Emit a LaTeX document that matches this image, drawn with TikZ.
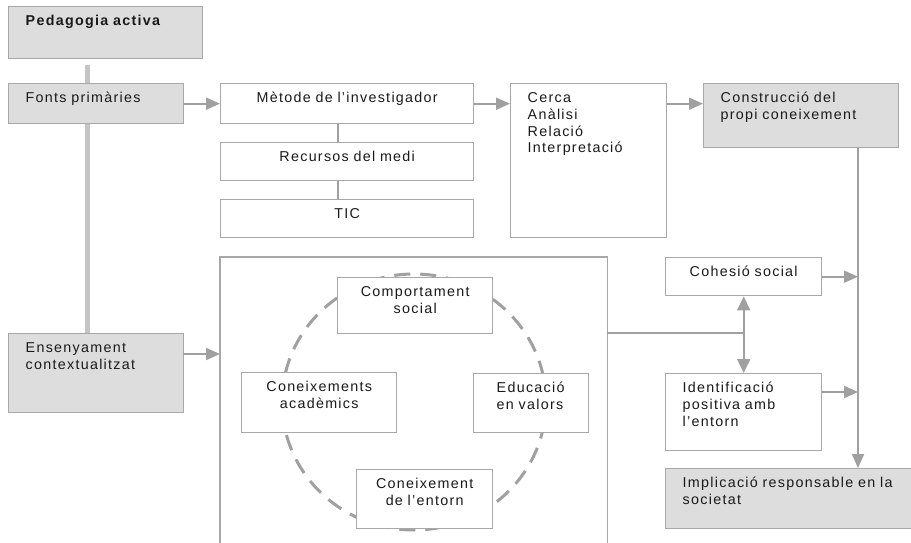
\documentclass[tikz,border=0pt]{standalone}
\usepackage{fontspec}
\setmainfont{Liberation Sans}[LetterSpace=9]
\usetikzlibrary{arrows.meta}
\definecolor{boxline}{HTML}{A8A8A8}
\definecolor{boxfill}{HTML}{DDDDDD}
\definecolor{wirecol}{HTML}{A0A0A0}
\definecolor{spinecol}{HTML}{C4C4C4}
\definecolor{ink}{HTML}{1A1A1A}

\begin{document}
\begin{tikzpicture}[x=1pt, y=-1pt, font=\fontsize{14.3}{16.7}\selectfont, text=ink,
	box/.style = {draw=boxline, line width=1.4pt, fill=white, anchor=north west, inner xsep=17pt, inner ysep=7pt, text height=12pt, align=left},
	gbox/.style = {box, fill=boxfill},
	cbox/.style = {box, align=center, inner xsep=4pt},
	wire/.style = {draw=wirecol, line width=2pt},
	arr/.style = {wire, -{Triangle[length=14pt, width=12pt]}}]

			\useasboundingbox (0,0) rectangle (911,543);

			% dashed ring behind the four boxes
			\draw[draw=wirecol, line width=3pt, dash pattern=on 16pt off 10pt] (414,402) ellipse [x radius=132pt, y radius=128pt];

			\node[gbox, text width=160pt, text depth=26pt] (ped) at (8,6) {\textbf{Pedagogia activa}};
			\node[gbox, text width=141pt, text depth=14pt] (fonts) at (8,83) {Fonts primàries};
			\node[gbox, text width=141pt, text depth=53pt] (ens) at (8,333) {Ensenyament\\contextualitzat};

			\node[cbox, text width=245pt, text depth=14pt] (met) at (220,83) {Mètode de l'investigador};
			\node[cbox, text width=245pt, text depth=12pt] (rec) at (220,142) {Recursos del medi};
			\node[cbox, text width=245pt, text depth=12pt] (tic) at (220,199) {TIC};

			\node[box, text width=122pt, text depth=128pt] (cerca) at (510,83) {Cerca\\Anàlisi\\Relació\\Interpretació};
			\node[gbox, text width=161pt, text depth=38pt] (constr) at (703,83) {Construcció del\\propi coneixement};

			\node[anchor=north west, minimum width=387pt, minimum height=286pt, inner sep=0pt] (frame) at (220,257) {};
			\draw[draw=boxline, line width=1.4pt] (frame.south west) |- (frame.north east) -- (frame.south east);

			\node[cbox, text width=147pt, text depth=30pt] (comp) at (337,277) {Comportament\\social};
			\node[cbox, text width=147pt, text depth=34pt] (acad) at (241,372) {Coneixements\\acadèmics};
			\node[box, inner xsep=23pt, text width=69pt, text depth=33pt] (valors) at (473,373) {Educació\\en valors};
			\node[cbox, text width=128pt, text depth=33pt] (entorn) at (356,469) {Coneixement\\de l'entorn};

			\node[cbox, text width=148pt, text depth=12pt] (coh) at (665,257) {Cohesió social};
			\node[box, text width=122pt, text depth=51pt] (ident) at (665,373) {Identificació\\positiva amb\\l'entorn};
			\node[gbox, text width=214pt, text depth=34pt] (impl) at (665,468) {Implicació responsable en la\\societat};

			\coordinate (spine) at (87,65);
			\coordinate (stem) at (338,0);
			\coordinate (rail) at (858,0);
			\coordinate (junc) at (743,333);
			\coordinate (ensout) at (183,354);

			\draw[draw=spinecol, line width=5pt] (spine) -- (spine |- fonts.north);
			\draw[draw=spinecol, line width=5pt] (spine |- fonts.south) -- (spine |- ens.north);

			\draw[arr] (fonts.east) -- (met.west);
			\draw[wire] (stem |- met.south) -- (stem |- rec.north);
			\draw[wire] (stem |- rec.south) -- (stem |- tic.north);
			\draw[arr] (met.east) -- (cerca.west |- met.east);
			\draw[arr] (cerca.east |- met.east) -- (constr.west |- met.east);
			\draw[arr] (rail |- constr.south) -- (rail |- impl.north);

			\draw[arr] (ensout) -- (ensout -| frame.west);
			\draw[wire] (junc -| frame.east) -- (junc);
			\draw[wire, {Triangle[length=14pt, width=13pt]}-{Triangle[length=14pt, width=13pt]}] (coh.south) -- (ident.north);
			\draw[arr] (coh.east) -- (coh.east -| rail);
			\draw[arr] ([yshift=-19pt]ident.north east) -- ([yshift=-19pt]ident.north east -| rail);
		\end{tikzpicture}
\end{document}
